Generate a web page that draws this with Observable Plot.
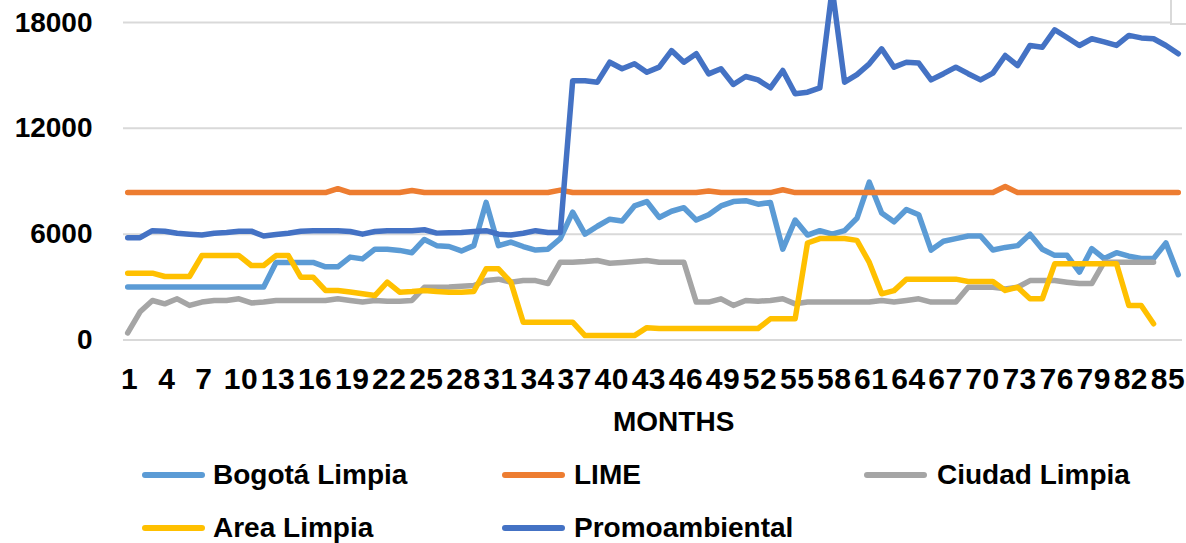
<!DOCTYPE html>
<html>
<head>
<meta charset="utf-8">
<script src="https://cdn.jsdelivr.net/npm/d3@7"></script>
<script src="https://cdn.jsdelivr.net/npm/@observablehq/plot@0.6"></script>
<style>
  html, body { margin: 0; padding: 0; background: white; }
  #wrap { position: relative; width: 1186px; height: 543px; overflow: hidden; background: white;
          font-family: "Liberation Sans", Arial, sans-serif; font-weight: bold; color: #000; }
  #chart { position: absolute; left: 0; top: 0; }
  .lbl { position: absolute; font-size: 28px; line-height: 28px; white-space: nowrap; }
  .sw { position: absolute; height: 6px; width: 63px; border-radius: 3px; }
  #corner { position: absolute; left: 1170px; top: -3px; width: 30px; height: 24px;
            border: 2px solid #d9d9d9; background: white; }
</style>
</head>
<body>
<div id="wrap">
  <div id="chart"></div>
  <div id="corner"></div>
  <div class="lbl" id="xlabel" style="left:613px; top:408px;"></div>
  <div id="legend"></div>
</div>
<script>
const seriesNames = ["Bogotá Limpia", "LIME", "Ciudad Limpia", "Area Limpia", "Promoambiental"];
const seriesColors = ["#5B9BD5", "#ED7D31", "#A5A5A5", "#FFC000", "#4472C4"];
const xTitle = "MONTHS";
const yTicks = [0, 6000, 12000, 18000];
const xTicks = [1,4,7,10,13,16,19,22,25,28,31,34,37,40,43,46,49,52,55,58,61,64,67,70,73,76,79,82,85];

const bogota = [
  3000,3000,3000,3000,3000,3000,3000,3000,3000,3000,3000,3000,
  4400,4400,4400,4400,4150,4150,4700,4600,
  5150,5150,5080,4950,5700,5350,5300,5050,5350,7800,
  5350,5550,5300,5100,5150,5750,7250,6000,6450,6850,
  6750,7600,7850,6950,7300,7500,6800,7100,7600,7850,
  7900,7700,7800,5150,6800,5950,6200,6000,6200,6900,
  8950,7200,6700,7400,7100,5100,5600,5750,5900,5900,
  5100,5250,5350,6000,5150,4800,4800,3850,5180,4620,
  4950,4750,4620,4620,5500,3700
];
const lime = [
  8360,8360,8360,8360,8360,8360,8360,8360,8360,8360,
  8360,8360,8360,8360,8360,8360,8360,8580,8360,8360,
  8360,8360,8360,8480,8360,8360,8360,8360,8360,8360,
  8360,8360,8360,8360,8360,8500,8360,8360,8360,8360,
  8360,8360,8360,8360,8360,8360,8360,8450,8360,8360,
  8360,8360,8360,8520,8360,8360,8360,8360,8360,8360,
  8360,8360,8360,8360,8360,8360,8360,8360,8360,8360,
  8360,8700,8360,8360,8360,8360,8360,8360,8360,8360,
  8360,8360,8360,8360,8360,8360
];
const ciudad = [
  400,1600,2240,2050,2335,1960,2150,2240,2240,2335,
  2100,2150,2240,2240,2240,2240,2240,2335,2240,2150,
  2240,2200,2200,2240,2990,2990,3000,3050,3090,3370,
  3450,3280,3370,3370,3200,4410,4410,4450,4510,4350,
  4400,4450,4510,4410,4410,4410,2150,2150,2335,1960,
  2240,2200,2240,2335,2050,2150,2150,2150,2150,2150,
  2150,2240,2150,2240,2335,2150,2150,2150,2990,2990,
  2990,2900,2990,3370,3370,3370,3280,3200,3200,4410,
  4410,4410,4410,4410,null,null
];
const area = [
  3790,3790,3790,3600,3600,3600,4790,4790,4790,4790,
  4225,4225,4790,4790,3560,3560,2810,2810,2720,2620,
  2520,3280,2710,2750,2810,2750,2710,2710,2750,4035,
  4035,3280,1010,1010,1010,1010,1010,250,250,250,
  250,250,700,650,650,650,650,650,650,650,
  650,650,1200,1200,1200,5500,5750,5750,5750,5650,
  4400,2620,2800,3450,3450,3450,3450,3450,3320,3320,
  3320,2810,2990,2340,2340,4320,4320,4320,4320,4320,
  4320,1960,1960,920,null,null
];
const promo = [
  5800,5800,6200,6170,6050,6000,5950,6050,6100,6170,
  6170,5900,5980,6050,6170,6200,6200,6200,6150,6000,
  6150,6200,6200,6200,6250,6060,6080,6100,6150,6200,
  6000,5950,6050,6200,6100,6100,14700,14700,14620,15750,
  15380,15660,15180,15470,16410,15750,16230,15090,15380,14490,
  14940,14750,14300,15280,13960,14050,14300,19900,14620,15050,
  15660,16510,15470,15750,15700,14750,15100,15470,15100,14750,
  15130,16130,15560,16700,16600,17590,17150,16700,17080,16900,
  16700,17270,17130,17080,16700,16230
];

const allSeries = [bogota, lime, ciudad, area, promo];
const data = [];
allSeries.forEach((arr, s) => {
  arr.forEach((v, i) => data.push({ month: i + 1, value: v, series: seriesNames[s] }));
});

const chart = Plot.plot({
  width: 1186,
  height: 400,
  marginTop: 0,
  marginBottom: 60.5,
  marginLeft: 123,
  marginRight: 4,
  style: { fontFamily: '"Liberation Sans", Arial, sans-serif', fontSize: "28px", fontWeight: "bold", color: "#000", background: "white", overflow: "hidden" },
  x: { domain: [0.66, 86.34], ticks: xTicks, tickSize: 0, tickPadding: 28, tickFormat: d => String(d), label: null },
  y: { domain: [0, 19250], ticks: yTicks, tickSize: 0, tickPadding: 31, tickFormat: d3.format("d"), label: null },
  color: { domain: seriesNames, range: seriesColors },
  marks: [
    Plot.ruleY(yTicks, { stroke: "#d9d9d9", strokeWidth: 2 }),
    Plot.line(data, { x: "month", y: "value", z: "series", stroke: "series", strokeWidth: 5.5,
                      strokeLinejoin: "round", strokeLinecap: "round", clip: true })
  ]
});
// x tick labels in the reference are slightly wider and nearly touch
chart.querySelectorAll('g[aria-label^="x-axis"] text').forEach(t => {
  t.style.fontSize = "30px";
  t.style.letterSpacing = "0.5px";
  t.setAttribute("dx", "2");
});
document.getElementById("chart").appendChild(chart);
document.getElementById("xlabel").textContent = xTitle;

const legendPos = [
  { sx: 142, tx: 213, y: 475 },
  { sx: 502, tx: 574, y: 475 },
  { sx: 864, tx: 937, y: 475 },
  { sx: 142, tx: 213, y: 528 },
  { sx: 502, tx: 574, y: 528 }
];
const leg = document.getElementById("legend");
seriesNames.forEach((name, i) => {
  const p = legendPos[i];
  const sw = document.createElement("div");
  sw.className = "sw";
  sw.style.left = p.sx + "px";
  sw.style.top = (p.y - 3) + "px";
  sw.style.background = seriesColors[i];
  leg.appendChild(sw);
  const t = document.createElement("div");
  t.className = "lbl";
  t.style.left = p.tx + "px";
  t.style.top = (p.y + 10 - 23.7) + "px";
  t.textContent = name;
  leg.appendChild(t);
});
</script>
</body>
</html>
